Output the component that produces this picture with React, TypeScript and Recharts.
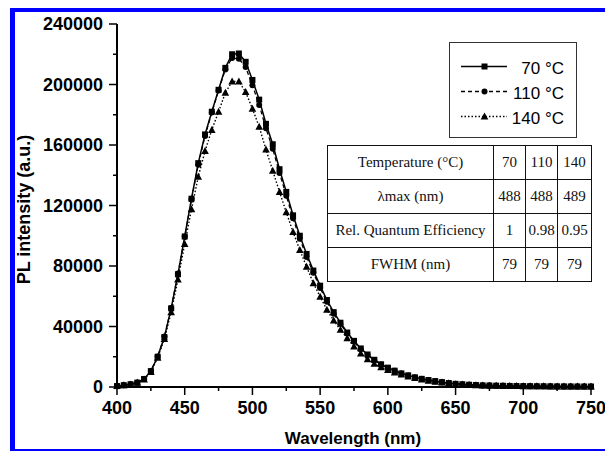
import { LineChart, Line, XAxis, YAxis, Legend, Label } from "recharts";

// wavelength grid (nm) and PL intensity (a.u.)
const wavelengths = [
  400, 405, 410, 415, 420, 425, 430, 435, 440, 445, 450, 455, 460, 465, 470,
  475, 480, 485, 490, 495, 500, 505, 510, 515, 520, 525, 530, 535, 540, 545,
  550, 555, 560, 565, 570, 575, 580, 585, 590, 595, 600, 605, 610, 615, 620,
  625, 630, 635, 640, 645, 650, 655, 660, 665, 670, 675, 680, 685, 690, 695,
  700, 705, 710, 715, 720, 725, 730, 735, 740, 745, 750,
];

const pl70 = [
  600, 1200, 1800, 2900, 5300, 10500, 20000, 33000, 52000, 74500, 99500,
  124500, 148000, 167000, 182000, 196500, 211000, 220000, 220500, 215000,
  203000, 190000, 174000, 160500, 144000, 129000, 113500, 100000, 88000, 77000,
  67000, 57500, 49500, 42500, 36000, 30500, 25500, 21500, 18000, 15000, 12800,
  10800, 9000, 7700, 6400, 5400, 4600, 3900, 3200, 2600, 2100, 1800, 1500,
  1300, 1100, 1000, 900, 800, 700, 650, 600, 550, 500, 480, 450, 420, 400, 380,
  360, 340, 320,
];

const pl110 = [
  600, 1200, 1800, 2900, 5300, 10600, 20200, 33400, 52300, 75000, 99500,
  124000, 147000, 166000, 181500, 196000, 210000, 217500, 217000, 211500,
  199500, 186500, 171000, 157500, 141500, 126500, 111500, 98000, 86000, 75500,
  65500, 56300, 48500, 41600, 35300, 29900, 25000, 21100, 17700, 14800, 12600,
  10700, 8900, 7600, 6300, 5300, 4500, 3800, 3100, 2500, 2000, 1700, 1450,
  1250, 1050, 950, 850, 760, 680, 630, 580, 530, 490, 460, 430, 410, 390, 370,
  350, 330, 310,
];

const pl140 = [
  600, 1100, 1700, 2800, 5000, 10000, 19300, 31800, 49500, 71000, 94500,
  117500, 139000, 156000, 170000, 182000, 194500, 202000, 202000, 195000,
  184000, 172000, 157000, 143000, 129000, 115500, 102500, 90500, 79500, 68600,
  59700, 51000, 44000, 37800, 32200, 26800, 22200, 18300, 15300, 13000, 11200,
  9600, 8200, 7000, 5900, 5000, 4200, 3500, 2900, 2400, 1900, 1600, 1350, 1150,
  1000, 900, 800, 720, 650, 600, 550, 500, 460, 430, 400, 380, 360, 340, 320,
  300, 280,
];

const xTicks = [
  400, 425, 450, 475, 500, 525, 550, 575, 600, 625, 650, 675, 700, 725, 750,
];
const yTicks = [
  0, 20000, 40000, 60000, 80000, 100000, 120000, 140000, 160000, 180000,
  200000, 220000, 240000,
];
const rightTicks = [20000, 60000, 100000, 140000, 180000, 220000];

const seriesNames = ["70 °C", "110 °C", "140 °C"];

const tableHead = ["Temperature (°C)", "70", "110", "140"];
const tableRows = [
  ["λmax (nm)", "488", "488", "489"],
  ["Rel. Quantum Efficiency", "1", "0.98", "0.95"],
  ["FWHM (nm)", "79", "79", "79"],
];

const data = wavelengths.map((w, i) => ({
  w,
  t70: pl70[i],
  t110: pl110[i],
  t140: pl140[i],
}));

const SANS = '"Liberation Sans", Arial, sans-serif';
const SERIF = '"Liberation Serif", "Times New Roman", serif';

const square = (cx: number, cy: number, key?: string) => (
  <rect key={key} x={cx - 3} y={cy - 3} width={6} height={6} fill="#000" />
);
const circle = (cx: number, cy: number, key?: string) => (
  <circle key={key} cx={cx} cy={cy} r={3} fill="#000" />
);
const triangle = (cx: number, cy: number, key?: string) => (
  <polygon
    key={key}
    points={`${cx},${cy - 4} ${cx - 3.8},${cy + 3} ${cx + 3.8},${cy + 3}`}
    fill="#000"
  />
);

const BottomTick = (props: any) => {
  const { x, y, payload } = props;
  const major = payload.value % 50 === 0;
  return (
    <g>
      <line x1={x} x2={x} y1={y} y2={y + (major ? 8 : 4)} stroke="#000" strokeWidth={1.5} />
      {major && (
        <text x={x} y={y + 27} textAnchor="middle" fontFamily={SANS} fontWeight="bold" fontSize={18} fill="#000">
          {payload.value}
        </text>
      )}
    </g>
  );
};

const LeftTick = (props: any) => {
  const { x, y, payload } = props;
  const major = payload.value % 40000 === 0;
  return (
    <g>
      <line x1={x - (major ? 8 : 4)} x2={x} y1={y} y2={y} stroke="#000" strokeWidth={1.5} />
      {major && (
        <text x={x - 14} y={y + 6} textAnchor="end" fontFamily={SANS} fontWeight="bold" fontSize={18} fill="#000">
          {payload.value}
        </text>
      )}
    </g>
  );
};

const TopTick = (props: any) => {
  const { x, y, payload } = props;
  if (payload.value % 50 !== 0) return <g />;
  return <line x1={x} x2={x} y1={y} y2={y + 7} stroke="#000" strokeWidth={1.5} />;
};

const RightTick = (props: any) => {
  const { x, y } = props;
  return <line x1={x - 3} x2={x + 3} y1={y} y2={y} stroke="#000" strokeWidth={1.5} />;
};

const LegendBox = () => {
  const icons = [square, circle, triangle];
  const dashes = [undefined, "4 3", "1.5 2"];
  return (
    <div
      style={{
        width: 128,
        height: 96,
        boxSizing: "border-box",
        border: "1.5px solid #333",
        background: "#fff",
      }}
    >
      <svg width={126} height={93} style={{ display: "block" }}>
        {seriesNames.map((name, i) => {
          const cy = 23.5 + i * 25;
          return (
            <g key={name}>
              <line x1={11} x2={57} y1={cy} y2={cy} stroke="#000" strokeWidth={1.4} strokeDasharray={dashes[i]} />
              {icons[i](34.5, cy)}
              <text x={114} y={cy + 7} textAnchor="end" fontFamily={SANS} fontSize={17} fill="#000">
                {name}
              </text>
            </g>
          );
        })}
      </svg>
    </div>
  );
};

const cellStyle: React.CSSProperties = {
  border: "1.5px solid #111",
  textAlign: "center",
  padding: 0,
  height: 33,
  fontFamily: SERIF,
  fontSize: 15,
  color: "#111",
  whiteSpace: "nowrap",
};

export default function App() {
  return (
    <div
      style={{
        position: "absolute",
        left: 0,
        top: 0,
        width: 605,
        height: 451,
        overflow: "hidden",
        background: "#fff",
      }}
    >
      <div
        style={{
          position: "absolute",
          left: 10,
          top: 8,
          width: 700,
          height: 445,
          boxSizing: "border-box",
          border: "4px solid #0000ff",
          borderLeftWidth: 5,
        }}
      />
      <div style={{ position: "absolute", left: 0, top: 0 }}>
        <LineChart
          width={605}
          height={451}
          data={data}
          margin={{ top: 24, right: 14, bottom: 0, left: 17 }}
        >
          <XAxis
            dataKey="w"
            type="number"
            domain={[400, 750]}
            ticks={xTicks}
            interval={0}
            height={64}
            tickSize={0}
            tickMargin={0}
            tickLine={false}
            axisLine={{ stroke: "#000", strokeWidth: 2 }}
            tick={BottomTick}
          >
            <Label
              content={(p: any) => {
                const vb = p.viewBox;
                return (
                  <text x={vb.x + vb.width / 2 - 1} y={vb.y + 57} textAnchor="middle" fontFamily={SANS} fontWeight="bold" fontSize={17} fill="#000">
                    Wavelength (nm)
                  </text>
                );
              }}
            />
          </XAxis>
          <XAxis
            xAxisId="top"
            orientation="top"
            type="number"
            dataKey="w"
            domain={[400, 750]}
            ticks={xTicks}
            interval={0}
            height={0}
            tickSize={0}
            tickMargin={0}
            tickLine={false}
            axisLine={{ stroke: "#000", strokeWidth: 1.5 }}
            tick={TopTick}
          />
          <YAxis
            type="number"
            domain={[0, 240000]}
            ticks={yTicks}
            interval={0}
            width={100}
            tickSize={0}
            tickMargin={0}
            tickLine={false}
            axisLine={{ stroke: "#000", strokeWidth: 2 }}
            tick={LeftTick}
          >
            <Label
              content={(p: any) => {
                const vb = p.viewBox;
                const cx = vb.x + 13;
                const cy = vb.y + vb.height / 2 + 4;
                return (
                  <text x={cx} y={cy} transform={`rotate(-90, ${cx}, ${cy})`} textAnchor="middle" fontFamily={SANS} fontWeight="bold" fontSize={18} fill="#000">
                    PL intensity (a.u.)
                  </text>
                );
              }}
            />
          </YAxis>
          <YAxis
            yAxisId="right"
            orientation="right"
            type="number"
            domain={[0, 240000]}
            ticks={rightTicks}
            interval={0}
            width={0}
            tickSize={0}
            tickMargin={0}
            tickLine={false}
            axisLine={{ stroke: "#000", strokeWidth: 1.5 }}
            tick={RightTick}
          />
          <Legend
            layout="horizontal"
            verticalAlign="middle"
            align="center"
            content={() => <LegendBox />}
            wrapperStyle={{ left: 449, top: 42, width: 128, height: 96 }}
          />
          <Line
            dataKey="t140"
            stroke="#000"
            strokeWidth={1.4}
            strokeDasharray="1.5 2"
            isAnimationActive={false}
            dot={(p: any) => triangle(p.cx, p.cy, `t${p.index}`)}
            activeDot={false}
          />
          <Line
            dataKey="t110"
            stroke="#000"
            strokeWidth={1.3}
            strokeDasharray="4 3"
            isAnimationActive={false}
            dot={(p: any) => circle(p.cx, p.cy, `c${p.index}`)}
            activeDot={false}
          />
          <Line
            dataKey="t70"
            stroke="#000"
            strokeWidth={1.5}
            isAnimationActive={false}
            dot={(p: any) => square(p.cx, p.cy, `s${p.index}`)}
            activeDot={false}
          />
        </LineChart>
      </div>
      <table
        style={{
          position: "absolute",
          left: 327,
          top: 145,
          width: 264,
          borderCollapse: "collapse",
          tableLayout: "fixed",
          background: "#fff",
        }}
      >
        <colgroup>
          <col style={{ width: 166 }} />
          <col style={{ width: 32 }} />
          <col style={{ width: 32 }} />
          <col style={{ width: 34 }} />
        </colgroup>
        <tbody>
          <tr>
            {tableHead.map((c, i) => (
              <td key={i} style={cellStyle}>
                {c}
              </td>
            ))}
          </tr>
          {tableRows.map((row, r) => (
            <tr key={r}>
              {row.map((c, i) => (
                <td key={i} style={cellStyle}>
                  {c}
                </td>
              ))}
            </tr>
          ))}
        </tbody>
      </table>
    </div>
  );
}
